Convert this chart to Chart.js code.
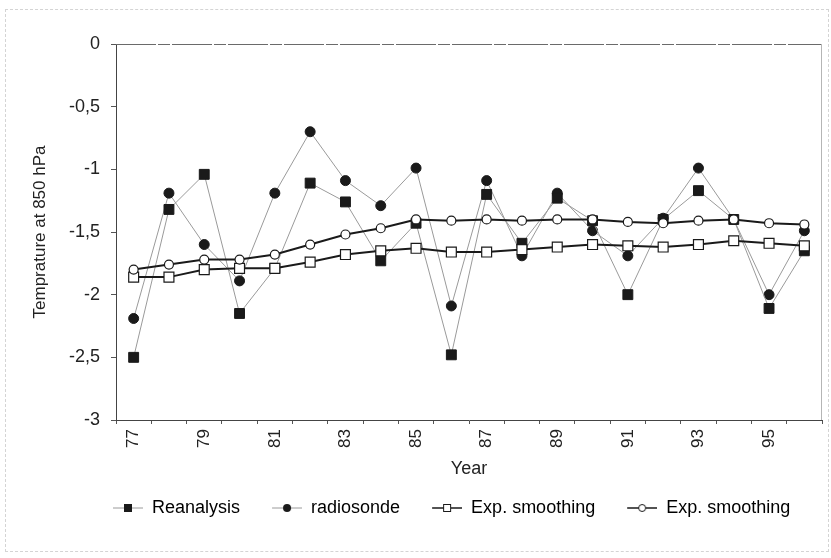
<!DOCTYPE html>
<html>
<head>
<meta charset="utf-8">
<script src="https://cdn.jsdelivr.net/npm/chart.js@4/dist/chart.umd.min.js"></script>
<style>
  body { margin: 0; background: #fff; }
  #wrap { position: relative; width: 831px; height: 558px; }
  #edge { position: absolute; left: 5px; top: 9px; right: 2px; bottom: 6px; border: 1px dashed #d4d4d4; pointer-events: none; }
</style>
</head>
<body>
<div id="wrap">
  <canvas id="tempChart" width="831" height="558"></canvas>
  <div id="edge"></div>
</div>
<script>
const years = ['77', '78', '79', '80', '81', '82', '83', '84', '85', '86',
               '87', '88', '89', '90', '91', '92', '93', '94', '95', '96'];

const reanalysis = [-2.50, -1.32, -1.04, -2.15, -1.79, -1.11, -1.26, -1.73, -1.43, -2.48,
                    -1.20, -1.59, -1.23, -1.41, -2.00, -1.40, -1.17, -1.40, -2.11, -1.65];
const radiosonde = [-2.19, -1.19, -1.60, -1.89, -1.19, -0.70, -1.09, -1.29, -0.99, -2.09,
                    -1.09, -1.69, -1.19, -1.49, -1.69, -1.39, -0.99, -1.40, -2.00, -1.49];
const smoothSquares = [-1.86, -1.86, -1.80, -1.79, -1.79, -1.74, -1.68, -1.65, -1.63, -1.66,
                       -1.66, -1.64, -1.62, -1.60, -1.61, -1.62, -1.60, -1.57, -1.59, -1.61];
const smoothCircles = [-1.80, -1.76, -1.72, -1.72, -1.68, -1.60, -1.52, -1.47, -1.40, -1.41,
                       -1.40, -1.41, -1.40, -1.40, -1.42, -1.43, -1.41, -1.40, -1.43, -1.44];

const seriesLabels = ['Reanalysis', 'radiosonde', 'Exp. smoothing', 'Exp. smoothing'];

const GRAY_LINE = '#9a9a9a';
const DARK = '#1a1a1a';

Chart.defaults.font.family = '"Liberation Sans", Arial, sans-serif';
Chart.defaults.color = '#222';

// small line+marker swatches for the legend
function makeIcon(lineColor, lineWidth, drawMarker) {
  const c = document.createElement('canvas');
  c.width = 52;
  c.height = 20;
  const g = c.getContext('2d');
  g.strokeStyle = lineColor;
  g.lineWidth = lineWidth;
  g.beginPath();
  g.moveTo(22, 10);
  g.lineTo(52, 10);
  g.stroke();
  drawMarker(g, 37, 10);
  return c;
}

const legendIcons = [
  makeIcon(GRAY_LINE, 1, (g, x, y) => { g.fillStyle = DARK; g.fillRect(x - 4, y - 4, 8, 8); }),
  makeIcon(GRAY_LINE, 1, (g, x, y) => { g.fillStyle = DARK; g.beginPath(); g.arc(x, y, 4, 0, Math.PI * 2); g.fill(); }),
  makeIcon(DARK, 1.5, (g, x, y) => {
    g.fillStyle = '#fff'; g.fillRect(x - 4, y - 4, 8, 8);
    g.strokeStyle = DARK; g.lineWidth = 1; g.strokeRect(x - 4 + 0.5, y - 4 + 0.5, 7, 7);
  }),
  makeIcon(DARK, 1.5, (g, x, y) => {
    g.fillStyle = '#fff'; g.beginPath(); g.arc(x, y, 3.5, 0, Math.PI * 2); g.fill();
    g.strokeStyle = DARK; g.lineWidth = 1; g.stroke();
  })
];

// top and right edges of the plot box
const plotFrame = {
  id: 'plotFrame',
  beforeDatasetsDraw(chart) {
    const { ctx, chartArea: a } = chart;
    ctx.save();
    ctx.lineWidth = 1;
    ctx.strokeStyle = '#6a6a6a';
    ctx.setLineDash([40, 2, 12, 2]);
    ctx.beginPath();
    ctx.moveTo(a.left, a.top + 0.5);
    ctx.lineTo(a.right, a.top + 0.5);
    ctx.stroke();
    ctx.setLineDash([]);
    ctx.strokeStyle = '#b5b5b5';
    ctx.beginPath();
    ctx.moveTo(a.right - 0.5, a.top);
    ctx.lineTo(a.right - 0.5, a.bottom);
    ctx.stroke();
    ctx.restore();
  }
};

// push the legend row over so it sits under the plot
const legendShift = {
  id: 'legendShift',
  afterLayout(chart) {
    if (chart.legend) chart.legend.left += 81;
  }
};

const ctx = document.getElementById('tempChart').getContext('2d');
new Chart(ctx, {
  type: 'line',
  data: {
    labels: years,
    datasets: [
      {
        label: seriesLabels[0],
        data: reanalysis,
        order: 2,
        borderColor: GRAY_LINE,
        borderWidth: 1,
        pointStyle: 'rect',
        pointRadius: 7,
        pointBackgroundColor: DARK,
        pointBorderColor: DARK,
        pointBorderWidth: 1
      },
      {
        label: seriesLabels[1],
        data: radiosonde,
        order: 3,
        borderColor: GRAY_LINE,
        borderWidth: 1,
        pointStyle: 'circle',
        pointRadius: 5,
        pointBackgroundColor: DARK,
        pointBorderColor: DARK,
        pointBorderWidth: 1
      },
      {
        label: seriesLabels[2],
        data: smoothSquares,
        order: 1,
        borderColor: DARK,
        borderWidth: 2,
        pointStyle: 'rect',
        pointRadius: 7,
        pointBackgroundColor: '#fff',
        pointBorderColor: DARK,
        pointBorderWidth: 1.2
      },
      {
        label: seriesLabels[3],
        data: smoothCircles,
        order: 0,
        borderColor: DARK,
        borderWidth: 2,
        pointStyle: 'circle',
        pointRadius: 4.5,
        pointBackgroundColor: '#fff',
        pointBorderColor: DARK,
        pointBorderWidth: 1.2
      }
    ]
  },
  options: {
    responsive: false,
    animation: false,
    layout: { padding: { top: 44, right: 9, bottom: 31, left: 0 } },
    plugins: {
      tooltip: { enabled: false },
      legend: {
        position: 'bottom',
        align: 'start',
        labels: {
          font: { size: 18 },
          color: '#222',
          usePointStyle: true,
          pointStyleWidth: 52,
          padding: 10,
          generateLabels: chart => chart.data.datasets.map((ds, i) => ({
            text: ds.label,
            pointStyle: legendIcons[i],
            datasetIndex: i,
            hidden: false,
            lineWidth: 0,
            strokeStyle: 'transparent',
            fillStyle: 'transparent'
          }))
        }
      }
    },
    scales: {
      x: {
        type: 'category',
        offset: true,
        afterFit: scale => { scale.height = 69; },
        grid: { drawOnChartArea: false, offset: true, tickLength: 4, color: '#555' },
        border: { color: '#444', width: 1 },
        ticks: {
          autoSkip: false,
          maxRotation: 90,
          minRotation: 90,
          padding: 5,
          font: { size: 17 },
          color: '#222',
          callback: (val, i) => (i % 2 === 0 ? years[i] : '')
        },
        title: {
          display: true,
          text: 'Year',
          font: { size: 18 },
          color: '#222',
          padding: { top: 0, bottom: 9 }
        }
      },
      y: {
        min: -3,
        max: 0,
        afterFit: scale => { scale.width = 116; },
        grid: { drawOnChartArea: false, tickLength: 5, color: '#555' },
        border: { color: '#444', width: 1 },
        ticks: {
          stepSize: 0.5,
          padding: 11,
          font: { size: 18 },
          color: '#222',
          callback: v => (v === 0 ? '0' : String(v).replace('.', ','))
        },
        title: {
          display: true,
          text: 'Temprature at 850 hPa',
          font: { size: 17 },
          color: '#222',
          padding: { top: 30, bottom: 0 }
        }
      }
    }
  },
  plugins: [plotFrame, legendShift]
});
</script>
</body>
</html>
